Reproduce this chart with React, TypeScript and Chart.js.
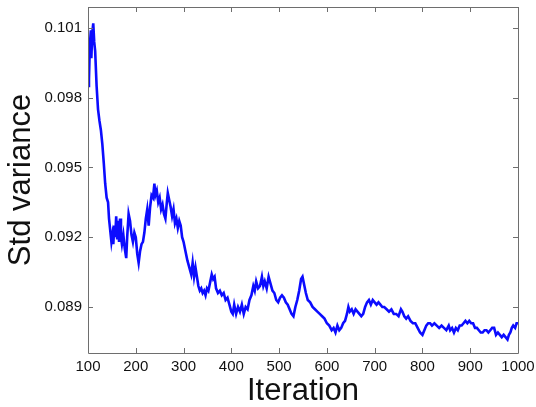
import React, { useEffect, useRef } from "react";
import { Chart, registerables } from "chart.js";

Chart.register(...registerables);

const iterations = [
  100, 102, 104, 106, 107, 109, 111, 113, 115, 118, 121, 124, 127, 130, 133, 136, 139, 142, 144, 147,
  149, 151, 153, 155, 157, 159, 161, 163, 165, 167, 169, 171, 174, 177, 180, 182, 185, 188, 191, 194,
  197, 200, 203, 206, 209, 212, 215, 218, 221, 224, 227, 230, 233, 236, 239, 241, 244, 247, 250, 253,
  256, 259, 262, 265, 267, 270, 273, 276, 279, 282, 285, 288, 291, 294, 297, 300, 304, 308, 312, 316,
  319, 322, 325, 328, 331, 334, 337, 340, 343, 346, 349, 352, 356, 359, 362, 365, 368, 372, 376, 380,
  384, 388, 392, 396, 400, 403, 406, 410, 414, 418, 422, 426, 430, 434, 438, 442, 446, 449, 452, 456,
  460, 464, 467, 470, 474, 478, 482, 486, 490, 494, 498, 502, 506, 510, 514, 518, 522, 526, 530, 534,
  538, 542, 546, 549, 552, 556, 560, 565, 570, 575, 580, 585, 590, 595, 600, 605, 610, 614, 618, 622,
  626, 630, 634, 638, 642, 645, 648, 652, 656, 660, 664, 668, 672, 676, 680, 684, 688, 692, 696, 700,
  704, 708, 712, 716, 720, 725, 730, 735, 740, 745, 750, 755, 758, 762, 766, 770, 775, 780, 785, 790,
  795, 800, 804, 808, 812, 816, 820, 825, 830, 835, 840, 845, 850, 855, 858, 862, 866, 870, 874, 878,
  882, 886, 890, 894, 898, 902, 906, 910, 914, 918, 922, 926, 930, 934, 938, 942, 946, 950, 954, 958,
  962, 966, 970, 974, 978, 981, 984, 987, 990, 994, 997, 1000,
];

const stdVariance = [
  0.0985, 0.0988, 0.1003, 0.1009, 0.0997, 0.1008, 0.1012, 0.1004, 0.1000, 0.0985, 0.0975, 0.0970, 0.0966, 0.0960, 0.0952, 0.0943, 0.0937, 0.0935, 0.0928, 0.0922,
  0.0918, 0.0921, 0.0917, 0.0925, 0.0920, 0.0929, 0.0919, 0.0927, 0.0918, 0.0928, 0.0920, 0.0917, 0.0921, 0.0915, 0.0911, 0.0920, 0.0930, 0.0927, 0.0921, 0.0918,
  0.0922, 0.0920, 0.0913, 0.0909, 0.0914, 0.0917, 0.0918, 0.0922, 0.0928, 0.0932, 0.0925, 0.0933, 0.0938, 0.0937, 0.0943, 0.0938, 0.0940, 0.0935, 0.0937, 0.0932,
  0.0934, 0.0930, 0.0928, 0.0935, 0.0939, 0.0936, 0.0933, 0.0929, 0.0932, 0.0926, 0.0928, 0.0924, 0.0927, 0.0925, 0.0920, 0.0918, 0.0914, 0.0910, 0.0907, 0.0904,
  0.0909, 0.0903, 0.0907, 0.0903, 0.0899, 0.0897, 0.0898, 0.0896, 0.0897, 0.0895, 0.0898, 0.0897, 0.0901, 0.0904, 0.0902, 0.0903, 0.0898, 0.0896, 0.0897, 0.0895,
  0.0896, 0.0893, 0.0894, 0.0891, 0.0888, 0.0887, 0.0891, 0.0887, 0.0890, 0.0888, 0.0891, 0.0887, 0.0890, 0.0889, 0.0893, 0.0895, 0.0899, 0.0897, 0.0901, 0.0898,
  0.0899, 0.0903, 0.0899, 0.0901, 0.0898, 0.0903, 0.0900, 0.0897, 0.0896, 0.0893, 0.0892, 0.0894, 0.0895, 0.0894, 0.0892, 0.0891, 0.0889, 0.0887, 0.0886, 0.0890,
  0.0893, 0.0897, 0.0902, 0.0903, 0.0900, 0.0896, 0.0893, 0.0892, 0.0890, 0.0889, 0.0888, 0.0887, 0.0886, 0.0885, 0.0883, 0.0882, 0.0880, 0.0881, 0.0879, 0.0882,
  0.0880, 0.0881, 0.0883, 0.0884, 0.0887, 0.0890, 0.0888, 0.0889, 0.0887, 0.0889, 0.0888, 0.0887, 0.0886, 0.0887, 0.0890, 0.0892, 0.0893, 0.0891, 0.0893, 0.0892,
  0.0891, 0.0892, 0.0891, 0.0890, 0.0890, 0.0889, 0.0888, 0.0889, 0.0887, 0.0887, 0.0886, 0.0889, 0.0888, 0.0886, 0.0885, 0.0886, 0.0884, 0.0883, 0.0883, 0.0881,
  0.0879, 0.0878, 0.0880, 0.0882, 0.0883, 0.0883, 0.0882, 0.0883, 0.0882, 0.0881, 0.0882, 0.0881, 0.0880, 0.0882, 0.0880, 0.0881, 0.0879, 0.0881, 0.0880, 0.0882,
  0.0882, 0.0883, 0.0884, 0.0883, 0.0884, 0.0883, 0.0883, 0.0881, 0.0881, 0.0880, 0.0879, 0.0879, 0.0880, 0.0880, 0.0879, 0.0880, 0.0881, 0.0881, 0.0878, 0.0879,
  0.0878, 0.0877, 0.0878, 0.0877, 0.0876, 0.0878, 0.0879, 0.0881, 0.0882, 0.0881, 0.0883, 0.0883,
];

const yTickValues = [0.089, 0.092, 0.095, 0.098, 0.101];
const xTickValues = [100, 200, 300, 400, 500, 600, 700, 800, 900, 1000];

const FONT = "Liberation Sans, Arial, Helvetica, sans-serif";
const AXIS_COLOR = "#6e6e6e";

const boxPlugin = {
  id: "boxTicks",
  afterDatasetsDraw(chart: any) {
    const { ctx, chartArea } = chart;
    const xs = chart.scales.x;
    const ys = chart.scales.y;
    const L = 5;
    ctx.save();
    ctx.strokeStyle = AXIS_COLOR;
    ctx.lineWidth = 1;
    ctx.beginPath();
    ctx.rect(
      Math.round(chartArea.left) + 0.5,
      Math.round(chartArea.top) + 0.5,
      Math.round(chartArea.right - chartArea.left),
      Math.round(chartArea.bottom - chartArea.top)
    );
    xs.ticks.forEach((t: any) => {
      const px = Math.round(xs.getPixelForValue(t.value)) + 0.5;
      ctx.moveTo(px, chartArea.bottom);
      ctx.lineTo(px, chartArea.bottom - L);
      ctx.moveTo(px, chartArea.top);
      ctx.lineTo(px, chartArea.top + L);
    });
    ys.ticks.forEach((t: any) => {
      const py = Math.round(ys.getPixelForValue(t.value)) + 0.5;
      ctx.moveTo(chartArea.left, py);
      ctx.lineTo(chartArea.left + L, py);
      ctx.moveTo(chartArea.right, py);
      ctx.lineTo(chartArea.right - L, py);
    });
    ctx.stroke();
    ctx.restore();
  },
};

export default function App() {
  const ref = useRef<HTMLCanvasElement | null>(null);

  useEffect(() => {
    document.body.style.margin = "0";
    const canvas = ref.current;
    if (!canvas) return;
    const chart = new Chart(canvas, {
      type: "line",
      data: {
        datasets: [
          {
            data: iterations.map((it, i) => ({ x: it, y: stdVariance[i] })),
            borderColor: "rgb(12,12,255)",
            borderWidth: 2.6,
            pointRadius: 0,
            tension: 0,
            fill: false,
          },
        ],
      },
      options: {
        animation: false,
        responsive: false,
        maintainAspectRatio: false,
        layout: { padding: { top: 7, right: 18, bottom: 0, left: 0 } },
        plugins: {
          legend: { display: false },
          tooltip: { enabled: false },
        },
        scales: {
          x: {
            type: "linear",
            min: 100,
            max: 1000,
            afterBuildTicks: (scale: any) => {
              scale.ticks = xTickValues.map((v) => ({ value: v }));
            },
            afterFit: (scale: any) => {
              scale.height = 54;
              scale.paddingLeft = 0;
              scale.paddingRight = 0;
            },
            grid: { display: false, drawTicks: false },
            border: { display: false },
            ticks: {
              color: "#111",
              padding: 5,
              maxRotation: 0,
              autoSkip: false,
              font: { family: FONT, size: 15 },
              callback: (v: any) => String(v),
            },
            title: {
              display: true,
              text: "Iteration",
              color: "#111",
              font: { family: FONT, size: 31, lineHeight: 1 },
              padding: { top: 0, bottom: 0 },
            },
          },
          y: {
            type: "linear",
            min: 0.08702,
            max: 0.1019,
            afterBuildTicks: (scale: any) => {
              scale.ticks = yTickValues.map((v) => ({ value: v }));
            },
            afterFit: (scale: any) => {
              scale.width = 88;
              scale.paddingTop = 0;
              scale.paddingBottom = 0;
            },
            grid: { display: false, drawTicks: false },
            border: { display: false },
            ticks: {
              color: "#111",
              padding: 6,
              autoSkip: false,
              font: { family: FONT, size: 15 },
              callback: (v: any) => Number(v).toFixed(3),
            },
            title: {
              display: true,
              text: "Std variance",
              color: "#111",
              font: { family: FONT, size: 31, lineHeight: 1 },
              padding: { top: 6, bottom: 0 },
            },
          },
        },
      },
      plugins: [boxPlugin],
    } as any);
    return () => chart.destroy();
  }, []);

  return (
    <div style={{ width: 536, height: 407, background: "#fff" }}>
      <canvas ref={ref} width={536} height={407} style={{ display: "block" }} />
    </div>
  );
}
